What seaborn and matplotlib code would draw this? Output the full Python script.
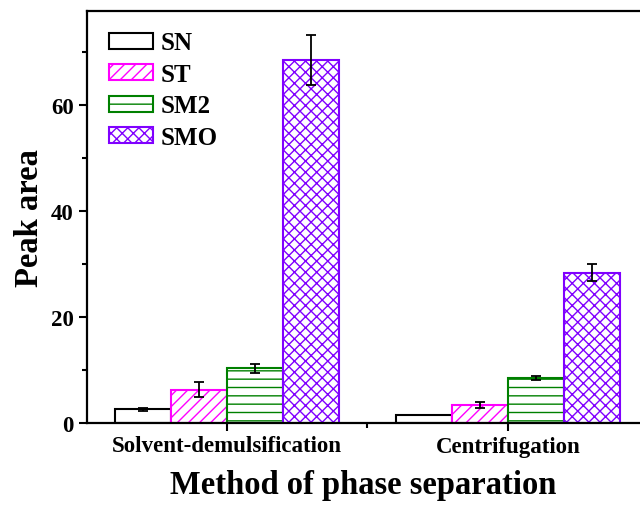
import numpy as np
import pandas as pd
import seaborn as sns
import matplotlib.pyplot as plt
from matplotlib.ticker import MultipleLocator, FixedLocator

# values
methods = ["Solvent-demulsification", "Centrifugation"]
samples = ["SN", "ST", "SM2", "SMO"]
peak_area = {
    "SN": [2.6, 1.5],
    "ST": [6.3, 3.4],
    "SM2": [10.3, 8.5],
    "SMO": [68.5, 28.3],
}
peak_err = {
    "SN": [0.3, 0.0],
    "ST": [1.4, 0.5],
    "SM2": [0.9, 0.4],
    "SMO": [4.7, 1.6],
}
colors = {"SN": "black", "ST": "#ff00ff", "SM2": "#008000", "SMO": "#8000ff"}
hatches = {"SN": "", "ST": "///", "SM2": "--", "SMO": "xxx"}

rows = []
for s in samples:
    for m, v in zip(methods, peak_area[s]):
        rows.append({"method": m, "sample": s, "area": v})
df = pd.DataFrame(rows)

sns.set_style("ticks")
plt.rcParams["font.family"] = ["Liberation Serif", "DejaVu Serif"]
plt.rcParams["font.weight"] = "bold"
plt.rcParams["hatch.linewidth"] = 1.0
for key in ["text.color", "axes.labelcolor", "xtick.color", "ytick.color",
            "axes.edgecolor"]:
    plt.rcParams[key] = "black"

fig = plt.figure(figsize=(6.4, 5.06), dpi=100)
ax = fig.add_axes([87 / 640, 1 - 424 / 506, 1 - 87 / 640, (424 - 12) / 506])

sns.barplot(data=df, x="method", y="area", hue="sample", order=methods,
            hue_order=samples, errorbar=None, width=0.8, ax=ax,
            palette=["white"] * 4, saturation=1, legend=False)

handles = []
for s, cont in zip(samples, ax.containers):
    for bar in cont:
        bar.set_facecolor("white")
        bar.set_edgecolor(colors[s])
        bar.set_hatch(hatches[s])
        bar.set_linewidth(1.5)
    xs = [b.get_x() + b.get_width() / 2 for b in cont]
    ys = [b.get_height() for b in cont]
    err = np.array(peak_err[s])
    mask = err > 0
    ax.errorbar(np.array(xs)[mask], np.array(ys)[mask], yerr=err[mask],
                fmt="none", ecolor="black", elinewidth=1.3, capsize=3.6,
                capthick=1.3, zorder=5)
    handles.append(cont.patches[0])

ax.legend(handles, samples, loc="upper left", bbox_to_anchor=(0.008, 0.993),
          frameon=False, prop={"weight": "bold", "size": 18},
          handlelength=1.75, handleheight=0.6, labelspacing=0.34,
          handletextpad=0.3, borderaxespad=0.3)

ax.set_xlim(-0.498, 1.47)
ax.set_ylim(0, 77.7)
ax.yaxis.set_major_locator(MultipleLocator(20))
ax.yaxis.set_minor_locator(MultipleLocator(10))
ax.xaxis.set_minor_locator(FixedLocator([0.5]))

for side in ["left", "bottom", "top"]:
    ax.spines[side].set_linewidth(1.6)
    ax.spines[side].set_color("black")
ax.spines["right"].set_visible(False)

ax.tick_params(axis="both", which="major", direction="out", length=6,
               width=1.5, labelsize=16.5, colors="black")
ax.tick_params(axis="both", which="minor", direction="out", length=3.5,
               width=1.5, colors="black")
ax.tick_params(axis="x", which="major", pad=3)
for lab in ax.get_xticklabels() + ax.get_yticklabels():
    lab.set_fontweight("bold")

ax.set_xlabel("Method of phase separation", fontsize=23.5, fontweight="bold",
              labelpad=9)
ax.set_ylabel("Peak area", fontsize=23.5, fontweight="bold", labelpad=4)

fig.savefig("out.png", dpi=100)
